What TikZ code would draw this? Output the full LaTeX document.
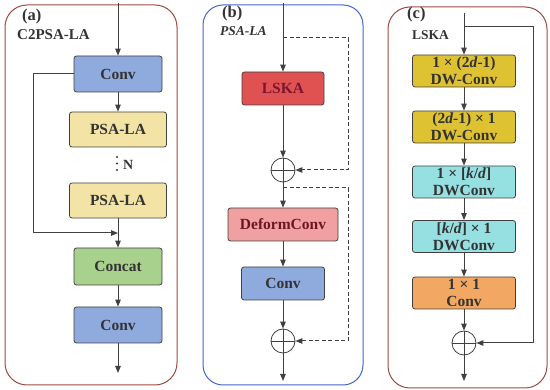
\documentclass[tikz,border=0pt]{standalone}
\usepackage{fontspec}
\setmainfont{Liberation Serif}
\usetikzlibrary{arrows.meta}
\definecolor{lnc}{HTML}{404040}
\definecolor{txc}{HTML}{333333}
\definecolor{convc}{HTML}{8FAADC}
\definecolor{psac}{HTML}{F3E4A6}
\definecolor{catc}{HTML}{A9D18E}
\definecolor{lskac}{HTML}{E05252}
\definecolor{lskat}{HTML}{7D1530}
\definecolor{defc}{HTML}{F0A0A0}
\definecolor{deft}{HTML}{6E1525}
\definecolor{dwc}{HTML}{DFC232}
\definecolor{dwkc}{HTML}{96E0E2}
\definecolor{onec}{HTML}{F2A862}
\definecolor{framea}{HTML}{9C4A42}
\definecolor{frameb}{HTML}{4466C4}
\tikzset{
  blk/.style={draw=lnc, line width=0.8pt, rounded corners=2.5pt, inner sep=0pt,
    text=txc, font=\fontsize{15.5}{17}\selectfont\bfseries, align=center},
  arr/.style={draw=lnc, line width=1pt, -{Triangle[length=7pt,width=5.5pt]}},
  dsh/.style={arr, dashed, dash pattern=on 4pt off 2.5pt},
  addop/.style={draw=lnc, line width=0.8pt, circle, minimum size=24pt, inner sep=0pt,
    path picture={\draw[lnc, line width=0.8pt]
      (path picture bounding box.north) -- (path picture bounding box.south)
      (path picture bounding box.west) -- (path picture bounding box.east);}},
  lbl/.style={anchor=west, inner sep=0pt, text=txc, font=\fontsize{16.5}{18}\selectfont\bfseries},
  ttl/.style={anchor=west, inner sep=0pt, text=txc, font=\fontsize{15}{17}\selectfont\bfseries}
}
\begin{document}
\begin{tikzpicture}[x=1pt, y=-1pt]
  \useasboundingbox (0,0) rectangle (550,390);
  % panel frames
  \draw[framea, line width=1pt, rounded corners=22pt] (5,5) rectangle (177,385);
  \draw[frameb, line width=1pt, rounded corners=20pt] (203,5) rectangle (363,385);
  \draw[framea, line width=1pt, rounded corners=22pt] (388,7) rectangle (547,388);
  \node[lbl] (la) at (22,17) {(a)};
  \node[ttl] (ta) at (17,35) {C2PSA-LA};
  \node[lbl] (lb) at (222,14) {(b)};
  \node[ttl, font=\fontsize{13.5}{15}\selectfont\bfseries\itshape] (tb) at (220,31) {PSA-LA};
  \node[lbl] (lc) at (407,15) {(c)};
  \node[ttl, font=\fontsize{13.5}{15}\selectfont\bfseries] (tc) at (412,35) {LSKA};

  % (a) C2PSA-LA
  \coordinate (ain) at (118,3);
  \node[blk, fill=convc, minimum width=88pt, minimum height=36pt] (aconv1) at (118,74) {Conv};
  \node[blk, fill=psac, minimum width=97pt, minimum height=35pt] (apsa1) at (118,129.5) {PSA-LA};
  \foreach \y in {157,163.5,170}
    \fill[txc] (117,\y) circle (1.1pt);
  \node[inner sep=0pt, anchor=west, font=\fontsize{14}{14}\selectfont\bfseries, text=txc] (an) at (123,165) {N};
  \node[blk, fill=psac, minimum width=97pt, minimum height=35pt] (apsa2) at (118,200.5) {PSA-LA};
  \coordinate (ajoin) at (118,233);
  \coordinate (aleft) at (33,74);
  \coordinate (aleftb) at (33,233);
  \node[blk, fill=catc, minimum width=88pt, minimum height=37pt] (acat) at (118,266.5) {Concat};
  \node[blk, fill=convc, minimum width=88pt, minimum height=36pt] (aconv2) at (118,325) {Conv};
  \coordinate (aout) at (118,373);
  \draw[arr] (ain) -- (aconv1);
  \draw[arr] (aconv1) -- (apsa1);
  \draw[arr] (apsa2) -- (acat);
  \draw[arr] (aconv1.west) -- (aleft) -- (aleftb) -- (ajoin);
  \draw[arr] (acat) -- (aconv2);
  \draw[arr] (aconv2) -- (aout);

  % (b) PSA-LA
  \coordinate (bin) at (283,3);
  \node[blk, fill=lskac, text=lskat, minimum width=82pt, minimum height=33pt] (blska) at (283,88.5) {LSKA};
  \node[addop] (badd1) at (283,170) {};
  \node[blk, fill=defc, text=deft, minimum width=110pt, minimum height=33pt] (bdef) at (283,224.5) {DeformConv};
  \node[blk, fill=convc, minimum width=83pt, minimum height=33pt] (bconv) at (283,283.5) {Conv};
  \node[addop] (badd2) at (283,341) {};
  \coordinate (bout) at (283,381);
  \coordinate (bsk1) at (283,38);
  \coordinate (bsk1r) at (348,38);
  \coordinate (bsk1b) at (348,170);
  \coordinate (bsk2) at (283,188);
  \coordinate (bsk2r) at (348,188);
  \coordinate (bsk2b) at (348,341);
  \draw[arr] (bin) -- (blska);
  \draw[arr] (blska) -- (badd1);
  \draw[arr] (badd1) -- (bdef);
  \draw[arr] (bdef) -- (bconv);
  \draw[arr] (bconv) -- (badd2);
  \draw[arr] (badd2) -- (bout);
  \draw[dsh] (bsk1) -- (bsk1r) -- (bsk1b) -- (badd1);
  \draw[dsh] (bsk2) -- (bsk2r) -- (bsk2b) -- (badd2);

  % (c) LSKA
  \coordinate (cin) at (464,13);
  \node[blk, fill=dwc, minimum width=103pt, minimum height=32pt] (cdw1) at (464,71) {1 × (2\textit{d}-1)\\DW-Conv};
  \node[blk, fill=dwc, minimum width=103pt, minimum height=32pt] (cdw2) at (464,127) {(2\textit{d}-1) × 1\\DW-Conv};
  \node[blk, fill=dwkc, minimum width=103pt, minimum height=32pt] (cdw3) at (464,182) {1 × [\textit{k}/\textit{d}]\\DWConv};
  \node[blk, fill=dwkc, minimum width=103pt, minimum height=32pt] (cdw4) at (464,236.5) {[\textit{k}/\textit{d}] × 1\\DWConv};
  \node[blk, fill=onec, minimum width=103pt, minimum height=32pt] (cone) at (464,293) {1 × 1\\Conv};
  \node[addop] (cadd) at (464,343) {};
  \coordinate (cout) at (464,381);
  \coordinate (csk) at (464,27);
  \coordinate (cskr) at (533,27);
  \coordinate (cskb) at (533,343);
  \draw[arr] (cin) -- (cdw1);
  \draw[arr] (cdw1) -- (cdw2);
  \draw[arr] (cdw2) -- (cdw3);
  \draw[arr] (cdw3) -- (cdw4);
  \draw[arr] (cdw4) -- (cone);
  \draw[arr] (cone) -- (cadd);
  \draw[arr] (cadd) -- (cout);
  \draw[arr] (csk) -- (cskr) -- (cskb) -- (cadd);
\end{tikzpicture}
\end{document}
